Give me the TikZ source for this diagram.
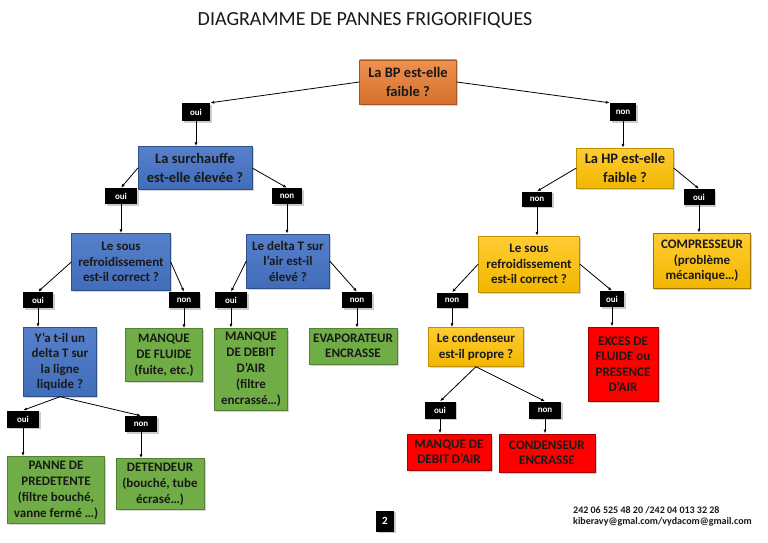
\documentclass[tikz,border=0pt]{standalone}
\usepackage{fontspec}
\setmainfont{Carlito}
\usetikzlibrary{%
    shapes,%
    arrows.meta,%
    shadows,%
    positioning,%
    calc%
}
\definecolor{bporange}{RGB}{237,125,49}
\definecolor{qblue}{RGB}{68,114,196}
\definecolor{rgreen}{RGB}{112,173,71}
\definecolor{hyellow}{RGB}{255,192,0}
\definecolor{rred}{RGB}{255,0,0}
\definecolor{txt}{RGB}{25,25,25}
\tikzset{%
    box/.style = {rectangle, align=center, text=txt, inner sep=1pt,
        font=\bfseries\fontsize{13}{15.5}\selectfont,
        drop shadow={opacity=0.35, shadow xshift=1.5pt, shadow yshift=-1.5pt}},
    bigbox/.style = {box, font=\bfseries\fontsize{14.5}{19}\selectfont},
    orangebox/.style = {top color=bporange!85!white, bottom color=bporange!90!black, draw=bporange!70!black},
    bluebox/.style = {top color=qblue!90!white, bottom color=qblue!95!black, draw=qblue!70!black},
    greenbox/.style = {fill=rgreen, draw=rgreen!75!black, font=\bfseries\fontsize{13}{16}\selectfont},
    yellowbox/.style = {top color=hyellow!80!white, bottom color=hyellow!95!black, draw=hyellow!75!black},
    redbox/.style = {fill=rred, draw=rred!65!black, line width=1pt},
    answer/.style = {rectangle, fill=black, text=white, inner sep=0pt,
        font=\bfseries\fontsize{9}{10}\selectfont,
        drop shadow={opacity=0.4, shadow xshift=1.5pt, shadow yshift=-1.5pt}},
    link/.style = {-{Latex[length=4pt,width=3pt]}, black, line width=0.8pt}
}
\begin{document}
\begin{tikzpicture}[x=1pt, y=-1pt]
    % Page frame
    \useasboundingbox (0,0) rectangle (768,543);
    \node[text=txt] (title) at (365,20) {\fontsize{20}{24}\selectfont DIAGRAMME DE PANNES FRIGORIFIQUES};

    % Questions
    \node[bigbox, orangebox, minimum width=97pt, minimum height=44pt] (bp) at (408,82) {La BP est-elle\\faible ?};
    \node[bigbox, bluebox, minimum width=114pt, minimum height=43pt] (surch) at (195,168) {La surchauffe\\est-elle élevée ?};
    \node[box, bluebox, minimum width=99pt, minimum height=57pt] (sr1) at (121,262) {Le sous\\refroidissement\\est-il correct ?};
    \node[box, bluebox, minimum width=83pt, minimum height=54pt] (dtair) at (288,261) {Le delta T sur\\l’air est-il\\élevé ?};
    \node[box, bluebox, minimum width=73pt, minimum height=69pt] (ligne) at (60,362) {Y’a t-il un\\delta T sur\\la ligne\\liquide ?};
    \node[bigbox, yellowbox, minimum width=97pt, minimum height=40pt] (hp) at (625,168) {La HP est-elle\\faible ?};
    \node[box, yellowbox, minimum width=101pt, minimum height=56pt] (sr2) at (529,264) {Le sous\\refroidissement\\est-il correct ?};
    \node[box, yellowbox, minimum width=95pt, minimum height=39pt] (cond) at (476,347) {Le condenseur\\est-il propre ?};

    % Answers
    \node[answer, minimum width=28pt, minimum height=18pt] (oui1) at (196,112) {oui};
    \node[answer, minimum width=26pt, minimum height=18pt] (non1) at (623,112) {non};
    \node[answer, minimum width=32pt, minimum height=16pt] (oui2) at (121,196) {oui};
    \node[answer, minimum width=30pt, minimum height=16pt] (non2) at (287,196) {non};
    \node[answer, minimum width=30pt, minimum height=16pt] (oui3) at (38,300) {oui};
    \node[answer, minimum width=31pt, minimum height=16pt] (non3) at (184,300) {non};
    \node[answer, minimum width=32pt, minimum height=16pt] (oui4) at (231,300) {oui};
    \node[answer, minimum width=30pt, minimum height=16pt] (non4) at (357,300) {non};
    \node[answer, minimum width=32pt, minimum height=17pt] (oui5) at (23,419) {oui};
    \node[answer, minimum width=32pt, minimum height=16pt] (non5) at (141,424) {non};
    \node[answer, minimum width=30pt, minimum height=15pt] (non6) at (537,199) {non};
    \node[answer, minimum width=31pt, minimum height=16pt] (oui6) at (699,197) {oui};
    \node[answer, minimum width=31pt, minimum height=15pt] (non7) at (452,300) {non};
    \node[answer, minimum width=24pt, minimum height=16pt] (oui7) at (612,299) {oui};
    \node[answer, minimum width=31pt, minimum height=17pt] (oui8) at (440,410) {oui};
    \node[answer, minimum width=32pt, minimum height=17pt] (non8) at (545,410) {non};

    % Diagnoses
    \node[box, greenbox, minimum width=77pt, minimum height=53pt] (fluide) at (164,355) {MANQUE\\DE FLUIDE\\(fuite, etc.)};
    \node[box, greenbox, minimum width=73pt, minimum height=82pt] (debit) at (251,369) {MANQUE\\DE DEBIT\\D’AIR\\(filtre\\encrassé…)};
    \node[box, greenbox, minimum width=88pt, minimum height=36pt, font=\bfseries\fontsize{13}{15}\selectfont] (evap) at (353,346) {EVAPORATEUR\\ENCRASSE};
    \node[box, greenbox, minimum width=97pt, minimum height=67pt] (predet) at (56,490) {PANNE DE\\PREDETENTE\\(filtre bouché,\\vanne fermé …)};
    \node[box, greenbox, minimum width=88pt, minimum height=51pt] (detend) at (160,484) {DETENDEUR\\(bouché, tube\\écrasé…)};
    \node[box, yellowbox, draw=hyellow!60!black, line width=1.5pt, minimum width=97pt, minimum height=55pt] (comp) at (702,261) {COMPRESSEUR\\(problème\\mécanique…)};
    \node[box, redbox, minimum width=70pt, minimum height=74pt] (exces) at (623,364) {EXCES DE\\FLUIDE ou\\PRESENCE\\D’AIR};
    \node[box, redbox, minimum width=84pt, minimum height=36pt, font=\bfseries\fontsize{13}{15}\selectfont] (debit2) at (449,452) {MANQUE DE\\DEBIT D’AIR};
    \node[box, redbox, minimum width=96pt, minimum height=38pt, font=\bfseries\fontsize{13}{15}\selectfont] (cenc) at (547,453) {CONDENSEUR\\ENCRASSE};

    % Footer
    \node[answer, minimum width=18pt, minimum height=21pt, font=\bfseries\fontsize{11}{12}\selectfont] (page) at (385,521) {2};
    \node[anchor=north west, align=left, inner sep=0pt, text=txt, font=\bfseries\fontsize{10}{11.5}\selectfont] (contact) at (573,506) {242 06 525 48 20 /242 04 013 32 28\\kiberavy@gmal.com/vydacom@gmail.com};

    % Branches
    \draw[link] (bp.west) -- (oui1.north east);
    \draw[link] (bp.east) -- (non1.north west);
    \draw[link] (oui1.south) -- (oui1.south |- surch.north);
    \draw[link] (non1.south) -- (non1.south |- hp.north);
    \draw[link] (surch.west) -- (oui2.north);
    \draw[link] (surch.east) -- (non2.north);
    \draw[link] (oui2.south) -- (oui2.south |- sr1.north);
    \draw[link] (non2.south) -- (non2.south |- dtair.north);
    \draw[link] (sr1.west) -- (oui3.north);
    \draw[link] (sr1.east) -- (non3.north);
    \draw[link] (dtair.west) -- (oui4.north);
    \draw[link] (dtair.east) -- (non4.north);
    \draw[link] (oui3.south) -- (oui3.south |- ligne.north);
    \draw[link] (non3.south) -- (non3.south |- fluide.north);
    \draw[link] (oui4.south) -- (oui4.south |- debit.north);
    \draw[link] (non4.south) -- (non4.south |- evap.north);
    \draw[link] (ligne.south) -- (oui5.north);
    \draw[link] (ligne.south) -- (non5.north);
    \draw[link] (oui5.south) -- (oui5.south |- predet.north);
    \draw[link] (non5.south) -- (non5.south |- detend.north);
    \draw[link] (hp.west) -- (non6.north);
    \draw[link] (hp.east) -- (oui6.north);
    \draw[link] (non6.south) -- (non6.south |- sr2.north);
    \draw[link] (oui6.south) -- (oui6.south |- comp.north);
    \draw[link] (sr2.west) -- (non7.north);
    \draw[link] (sr2.east) -- (oui7.north);
    \draw[link] (non7.south) -- (non7.south |- cond.north);
    \draw[link] (oui7.south) -- (oui7.south |- exces.north);
    \draw[link] (cond.south) -- (oui8.north);
    \draw[link] (cond.south) -- (non8.north);
    \draw[link] (oui8.south) -- (oui8.south |- debit2.north);
    \draw[link] (non8.south) -- (non8.south |- cenc.north);
\end{tikzpicture}
\end{document}
